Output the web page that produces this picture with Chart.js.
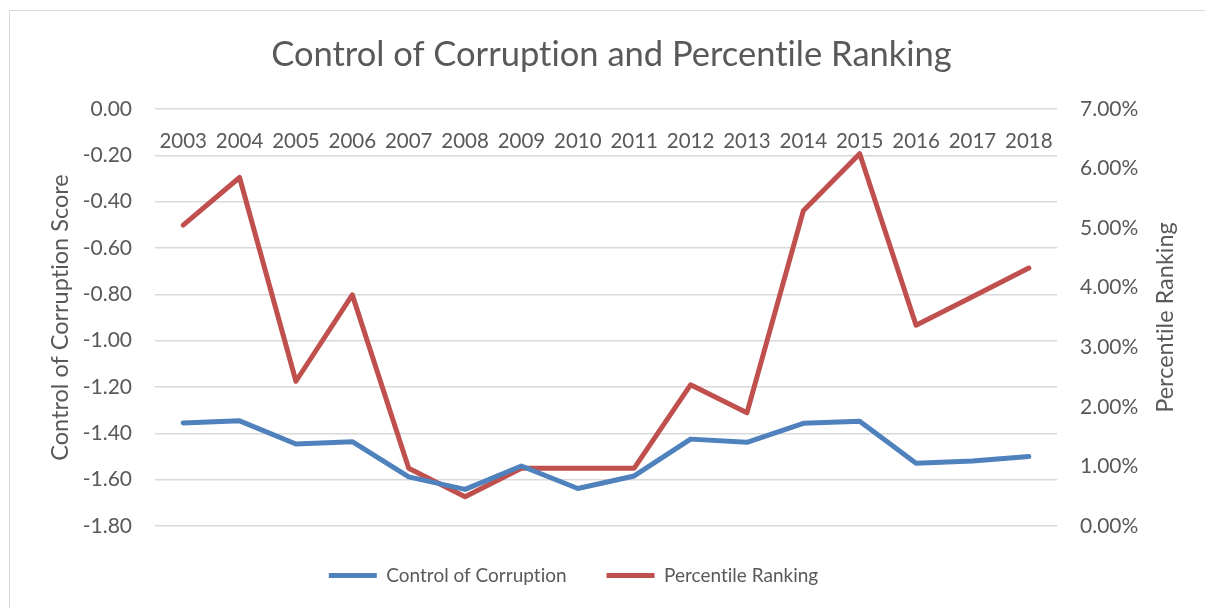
<!DOCTYPE html>
<html>
<head>
<meta charset="utf-8">
<script src="https://cdn.jsdelivr.net/npm/chart.js@4.4.1/dist/chart.umd.min.js"></script>
<style>
  html, body { margin: 0; padding: 0; background: #ffffff; overflow: hidden; }
  #frame {
    position: absolute; left: 9px; top: 10px; width: 1400px; height: 800px;
    border: 1.5px solid #d9d9d9; box-sizing: border-box;
  }
  #wrap { position: absolute; left: 0; top: 0; width: 1205px; height: 608px; }
</style>
</head>
<body>
<div id="frame"></div>
<div id="wrap"><canvas id="chart" width="1205" height="608"></canvas></div>
<script>
// Years on the category axis
const years = ['2003', '2004', '2005', '2006', '2007', '2008', '2009', '2010',
               '2011', '2012', '2013', '2014', '2015', '2016', '2017', '2018'];

// Control of Corruption estimate (left axis)
const controlScore = [-1.355, -1.346, -1.446, -1.436, -1.588, -1.642, -1.541, -1.638,
                      -1.584, -1.425, -1.439, -1.357, -1.348, -1.529, -1.519, -1.500];

// Percentile rank, in percent (right axis)
const percentileRank = [5.05, 5.85, 2.43, 3.88, 0.97, 0.49, 0.97, 0.97,
                        0.97, 2.37, 1.90, 5.29, 6.25, 3.37, 3.85, 4.33];

// Axis ranges and steps
const scoreMin = -1.8, scoreMax = 0, scoreStep = 0.2;
const pctMin = 0, pctMax = 7, pctStep = 1;

const textColor = '#595959';
const gridColor = '#d9d9d9';
const fontFamily = 'Lato, "Open Sans", sans-serif';

// Plain glyphs, no "ti"/"fi" ligatures
const plainText = {
  id: 'plainText',
  beforeLayout(chart) { chart.ctx.textRendering = 'optimizeSpeed'; },
  beforeDraw(chart) { chart.ctx.textRendering = 'optimizeSpeed'; }
};

// Nudge the legend row sideways
const legendShift = {
  id: 'legendShift',
  afterLayout(chart, args, opts) {
    const lg = chart.legend;
    if (lg) { lg.left += opts.dx; lg.right += opts.dx; }
  }
};

// Secondary axis title, reading bottom-to-top like the primary one
const rightAxisTitle = {
  id: 'rightAxisTitle',
  afterDraw(chart, args, opts) {
    const { ctx, chartArea } = chart;
    ctx.save();
    ctx.translate(chartArea.right + opts.offset, (chartArea.top + chartArea.bottom) / 2);
    ctx.rotate(-Math.PI / 2);
    ctx.font = `${opts.size}px ${fontFamily}`;
    ctx.fillStyle = opts.color;
    ctx.textAlign = 'center';
    ctx.textBaseline = 'middle';
    ctx.fillText(opts.text, 0, 0);
    ctx.restore();
  }
};

new Chart(document.getElementById('chart'), {
  type: 'line',
  plugins: [plainText, legendShift, rightAxisTitle],
  data: {
    labels: years,
    datasets: [
      {
        label: 'Control of Corruption',
        data: controlScore,
        yAxisID: 'y',
        borderColor: '#4f81bd',
        backgroundColor: '#4f81bd',
        borderWidth: 5,
        borderCapStyle: 'round',
        borderJoinStyle: 'round',
        pointRadius: 0,
        tension: 0
      },
      {
        label: 'Percentile Ranking',
        data: percentileRank,
        yAxisID: 'y1',
        borderColor: '#c0504d',
        backgroundColor: '#c0504d',
        borderWidth: 5,
        borderCapStyle: 'round',
        borderJoinStyle: 'round',
        pointRadius: 0,
        tension: 0
      }
    ]
  },
  options: {
    responsive: false,
    animation: false,
    layout: { padding: { left: 18, right: 0, top: 0, bottom: 13 } },
    plugins: {
      title: {
        display: true,
        text: 'Control of Corruption and Percentile Ranking',
        color: textColor,
        font: { family: fontFamily, size: 34.5, weight: 'normal' },
        padding: { top: 34.3, bottom: 33.3 }
      },
      legend: {
        position: 'bottom',
        labels: {
          color: textColor,
          font: { family: fontFamily, size: 19 },
          usePointStyle: true,
          pointStyle: 'line',
          pointStyleWidth: 48,
          boxHeight: 19,
          padding: 40
        }
      },
      legendShift: { dx: -38 },
      tooltip: { enabled: false },
      rightAxisTitle: { text: 'Percentile Ranking', offset: 108, size: 23.5, color: textColor }
    },
    scales: {
      x: {
        position: { y: 0 },
        offset: true,
        grid: { display: false },
        border: { display: false },
        ticks: {
          color: textColor,
          font: { family: fontFamily, size: 20.5 },
          autoSkip: false,
          maxRotation: 0,
          padding: 12
        }
      },
      y: {
        position: 'left',
        min: scoreMin,
        max: scoreMax,
        afterFit: (s) => { s.width = 137; },
        ticks: {
          stepSize: scoreStep,
          color: textColor,
          font: { family: fontFamily, size: 21 },
          padding: 23,
          callback: (v) => Number(v).toFixed(2)
        },
        grid: { color: gridColor, lineWidth: 1.5, drawTicks: false },
        border: { display: false },
        title: {
          display: true,
          text: 'Control of Corruption Score',
          color: textColor,
          font: { family: fontFamily, size: 23.5 },
          padding: { top: 28, bottom: 0 }
        }
      },
      y1: {
        position: 'right',
        min: pctMin,
        max: pctMax,
        afterFit: (s) => { s.width = 1205 - 1057; },
        ticks: {
          stepSize: pctStep,
          color: textColor,
          font: { family: fontFamily, size: 21 },
          padding: 23,
          callback: (v) => Number(v).toFixed(2) + '%'
        },
        grid: { display: false, drawTicks: false },
        border: { display: false }
      }
    }
  }
});
</script>
</body>
</html>
